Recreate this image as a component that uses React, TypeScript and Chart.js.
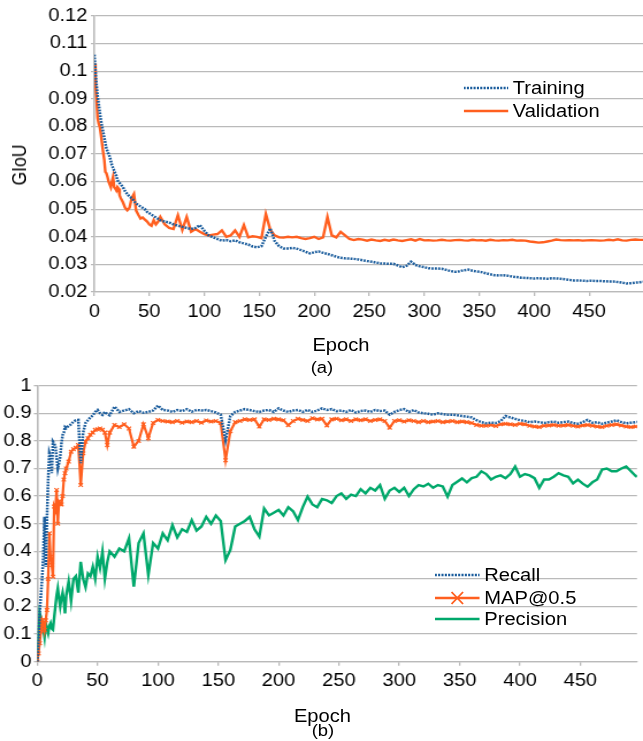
import React, { useEffect, useRef } from 'react';
import { Chart, registerables } from 'chart.js';

Chart.register(...registerables);

// ---------------- data ----------------
const EPOCHS = [
  0, 1, 2, 3, 4, 5, 6, 7, 8, 9, 10, 11, 12, 13, 14, 15, 16, 17, 18, 19, 20, 21, 22, 23, 24,
  26, 28, 30, 32, 34, 36, 38, 40, 42, 44, 46, 48, 50, 52, 54, 56, 58, 60,
  64, 68, 72, 76, 80, 84, 88, 92, 96, 100,
  104, 108, 112, 116, 120, 124, 128, 132, 136, 140,
  144, 148, 152, 156, 160, 164, 168, 172, 176, 180,
  184, 188, 192, 196, 200, 204, 208, 212, 216, 220,
  224, 228, 232, 236, 240, 244, 248, 252, 256, 260,
  264, 268, 272, 276, 280, 284, 288, 292, 296, 300,
  304, 308, 312, 316, 320, 324, 328, 332, 336, 340,
  344, 348, 352, 356, 360, 364, 368, 372, 376, 380,
  384, 388, 392, 396, 400, 404, 408, 412, 416, 420,
  424, 428, 432, 436, 440, 444, 448, 452, 456, 460,
  464, 468, 472, 476, 480, 484, 488, 492, 496, 499,
];

const X_TICKS = [0, 50, 100, 150, 200, 250, 300, 350, 400, 450];

const GIOU_TRAINING = [
  0.106, 0.100, 0.095, 0.091, 0.088, 0.085, 0.082, 0.080, 0.078, 0.076, 0.074, 0.072, 0.071, 0.070, 0.069, 0.0675, 0.066, 0.065, 0.064, 0.063, 0.062, 0.0605, 0.060, 0.0595, 0.059,
  0.058, 0.0565, 0.0555, 0.0545, 0.054, 0.053, 0.052, 0.0515, 0.051, 0.0505, 0.050, 0.049, 0.0485, 0.048, 0.0475, 0.047, 0.0465, 0.046,
  0.0455, 0.0452, 0.0445, 0.0440, 0.0436, 0.0432, 0.0428, 0.0432, 0.0442, 0.0422,
  0.0405, 0.0398, 0.0392, 0.0386, 0.0388, 0.0384, 0.0387, 0.0380, 0.0376, 0.0372,
  0.0365, 0.0362, 0.0366, 0.0400, 0.0430, 0.0385, 0.0366, 0.0358, 0.0358, 0.0360,
  0.0357, 0.0352, 0.0346, 0.0340, 0.0344, 0.0347, 0.0342, 0.0338, 0.0333, 0.0328,
  0.0324, 0.0322, 0.0321, 0.0320, 0.0318, 0.0315, 0.0312, 0.0310, 0.0307, 0.0304,
  0.0303, 0.0302, 0.0302, 0.0296, 0.0290, 0.0295, 0.0310, 0.0298, 0.0293, 0.0290,
  0.0286, 0.0285, 0.0285, 0.0284, 0.0280, 0.0276, 0.0273, 0.0275, 0.0279, 0.0281,
  0.0277, 0.0274, 0.0272, 0.0268, 0.0264, 0.0261, 0.0260, 0.0261, 0.0259, 0.0256,
  0.0254, 0.0252, 0.0251, 0.0250, 0.0249, 0.0250, 0.0249, 0.0248, 0.0250, 0.0249,
  0.0248, 0.0246, 0.0244, 0.0242, 0.0242, 0.0241, 0.0240, 0.0241, 0.0240, 0.0240,
  0.0239, 0.0238, 0.0238, 0.0236, 0.0234, 0.0231, 0.0232, 0.0234, 0.0235, 0.0237,
];

const GIOU_VALIDATION = [
  0.1028, 0.095, 0.090, 0.083, 0.081, 0.0798, 0.077, 0.0738, 0.0707, 0.068, 0.0635, 0.063, 0.0617, 0.060, 0.059, 0.058, 0.060, 0.0617, 0.058, 0.0575, 0.0568, 0.058, 0.0575, 0.055, 0.054,
  0.0525, 0.0505, 0.0496, 0.0505, 0.054, 0.0555, 0.0495, 0.048, 0.0466, 0.047, 0.0462, 0.0455, 0.0445, 0.044, 0.046, 0.0445, 0.0455, 0.0472,
  0.0445, 0.0432, 0.0428, 0.0478, 0.0425, 0.0472, 0.0418, 0.0428, 0.0418, 0.0410,
  0.0405, 0.0408, 0.0410, 0.0423, 0.0400, 0.0405, 0.0423, 0.0400, 0.0442, 0.0398,
  0.0402, 0.0400, 0.0395, 0.0482, 0.0425, 0.0405, 0.0398, 0.0397, 0.0400, 0.0398,
  0.0400, 0.0395, 0.0392, 0.0395, 0.0400, 0.0392, 0.0398, 0.0472, 0.0405, 0.0398,
  0.0418, 0.0405, 0.0392, 0.0388, 0.0392, 0.0390, 0.0386, 0.0390, 0.0387, 0.0385,
  0.0389, 0.0386, 0.0390, 0.0387, 0.0385, 0.0388, 0.0391, 0.0386, 0.0392, 0.0387,
  0.0388, 0.0386, 0.0387, 0.0389, 0.0387, 0.0386, 0.0388, 0.0389, 0.0387, 0.0386,
  0.0389, 0.0387, 0.0388, 0.0386, 0.0389, 0.0387, 0.0386, 0.0388, 0.0387, 0.0389,
  0.0386, 0.0387, 0.0386, 0.0383, 0.0381, 0.0379, 0.0380, 0.0383, 0.0386, 0.0390,
  0.0388, 0.0387, 0.0388, 0.0387, 0.0388, 0.0386, 0.0387, 0.0388, 0.0387, 0.0386,
  0.0387, 0.0389, 0.0387, 0.0391, 0.0387, 0.0386, 0.0389, 0.0390, 0.0389, 0.0389,
];

const RECALL = [
  0, 0.08, 0.175, 0.24, 0.30, 0.38, 0.525, 0.344, 0.52, 0.658, 0.755, 0.74, 0.683, 0.797, 0.79, 0.779, 0.74, 0.70, 0.72, 0.743, 0.79, 0.821, 0.83, 0.85, 0.846,
  0.855, 0.86, 0.87, 0.875, 0.876, 0.719, 0.83, 0.865, 0.875, 0.885, 0.892, 0.905, 0.912, 0.90, 0.894, 0.905, 0.897, 0.893,
  0.924, 0.905, 0.91, 0.915, 0.90, 0.908, 0.902, 0.905, 0.91, 0.928,
  0.912, 0.91, 0.905, 0.912, 0.908, 0.915, 0.906, 0.912, 0.91, 0.912,
  0.908, 0.903, 0.895, 0.803, 0.89, 0.905, 0.91, 0.915, 0.912, 0.908,
  0.905, 0.91, 0.912, 0.905, 0.918, 0.91, 0.905, 0.91, 0.912, 0.905,
  0.912, 0.905, 0.91, 0.918, 0.912, 0.915, 0.908, 0.91, 0.905, 0.912,
  0.903, 0.908, 0.91, 0.905, 0.912, 0.908, 0.91, 0.895, 0.905, 0.912,
  0.915, 0.905, 0.912, 0.903, 0.90, 0.898, 0.895, 0.90, 0.897, 0.895,
  0.895, 0.893, 0.89, 0.888, 0.885, 0.875, 0.868, 0.864, 0.866, 0.865,
  0.872, 0.89, 0.885, 0.88, 0.875, 0.872, 0.868, 0.87, 0.868, 0.865,
  0.868, 0.87, 0.866, 0.868, 0.87, 0.865, 0.862, 0.868, 0.876, 0.866,
  0.868, 0.862, 0.866, 0.87, 0.875, 0.868, 0.864, 0.866, 0.868, 0.87,
];

const MAP50 = [
  0, 0.03, 0.067, 0.11, 0.151, 0.14, 0.115, 0.15, 0.187, 0.30, 0.465, 0.38, 0.35, 0.308, 0.562, 0.55, 0.622, 0.50, 0.58, 0.574, 0.57, 0.60, 0.66, 0.683, 0.70,
  0.725, 0.761, 0.77, 0.775, 0.785, 0.64, 0.755, 0.797, 0.81, 0.822, 0.83, 0.84, 0.842, 0.845, 0.84, 0.83, 0.785, 0.83,
  0.858, 0.85, 0.86, 0.845, 0.779, 0.80, 0.86, 0.81, 0.865, 0.876,
  0.872, 0.87, 0.868, 0.872, 0.866, 0.87, 0.868, 0.872, 0.866, 0.874,
  0.87, 0.872, 0.865, 0.73, 0.835, 0.868, 0.872, 0.878, 0.876, 0.878,
  0.852, 0.878, 0.876, 0.88, 0.878, 0.875, 0.857, 0.872, 0.88, 0.876,
  0.872, 0.882, 0.878, 0.88, 0.856, 0.878, 0.88, 0.875, 0.878, 0.872,
  0.878, 0.875, 0.878, 0.872, 0.876, 0.878, 0.872, 0.848, 0.872, 0.875,
  0.87, 0.875, 0.872, 0.868, 0.872, 0.868, 0.87, 0.872, 0.868, 0.87,
  0.872, 0.868, 0.87, 0.868, 0.865, 0.858, 0.855, 0.855, 0.858, 0.854,
  0.86, 0.862, 0.86, 0.858, 0.862, 0.86, 0.855, 0.852, 0.85, 0.855,
  0.856, 0.858, 0.855, 0.856, 0.858, 0.855, 0.852, 0.856, 0.858, 0.855,
  0.852, 0.85, 0.855, 0.858, 0.86, 0.856, 0.852, 0.85, 0.852, 0.853,
];

const PRECISION = [
  0, 0.08, 0.176, 0.16, 0.13, 0.12, 0.09, 0.14, 0.12, 0.103, 0.13, 0.14, 0.12, 0.116, 0.16, 0.20, 0.24, 0.266, 0.23, 0.20, 0.23, 0.25, 0.22, 0.175, 0.24,
  0.29, 0.22, 0.30, 0.31, 0.25, 0.362, 0.30, 0.27, 0.32, 0.31, 0.344, 0.30, 0.38, 0.34, 0.399, 0.30, 0.36, 0.40,
  0.38, 0.41, 0.40, 0.447, 0.272, 0.43, 0.465, 0.314, 0.43, 0.41,
  0.465, 0.44, 0.495, 0.45, 0.48, 0.47, 0.513, 0.475, 0.49, 0.525,
  0.50, 0.53, 0.51, 0.368, 0.405, 0.49, 0.50, 0.51, 0.525, 0.48,
  0.453, 0.555, 0.53, 0.54, 0.55, 0.53, 0.56, 0.545, 0.513, 0.56,
  0.598, 0.57, 0.56, 0.59, 0.585, 0.575, 0.60, 0.61, 0.59, 0.605,
  0.60, 0.625, 0.61, 0.63, 0.62, 0.64, 0.59, 0.62, 0.63, 0.615,
  0.63, 0.60, 0.625, 0.64, 0.635, 0.645, 0.63, 0.64, 0.635, 0.598,
  0.64, 0.652, 0.664, 0.65, 0.665, 0.67, 0.69, 0.68, 0.66, 0.67,
  0.675, 0.665, 0.68, 0.707, 0.67, 0.68, 0.675, 0.665, 0.63, 0.66,
  0.66, 0.67, 0.683, 0.675, 0.67, 0.646, 0.66, 0.645, 0.634, 0.65,
  0.66, 0.696, 0.70, 0.69, 0.69, 0.70, 0.707, 0.69, 0.672, 0.675,
];

const GIOU_TICKS = { min: 0.02, max: 0.12, step: 0.01 };
const METRIC_TICKS = { min: 0, max: 1, step: 0.1 };

// ---------------- style ----------------
const W = 559; // inner layout width; stretched horizontally to 643 like the reference
const S = 643 / W;
const FONT = '"Liberation Sans", Arial, sans-serif';
const FS = 17.5;
const BLUE = '#1a5c9c';
const ORANGE = '#ff5f1f';
const GREEN = '#00a86b';
const GRID = '#bababa';

const pts = (ys: number[]) => EPOCHS.map((x, i) => ({ x, y: ys[i] }));

function axisX(max: number, height: number, pad: number) {
  return {
    type: 'linear',
    min: 0,
    max,
    afterFit: (s: any) => { s.height = height; },
    afterBuildTicks: (s: any) => { s.ticks = X_TICKS.map((value) => ({ value })); },
    ticks: { autoSkip: false, maxRotation: 0, padding: pad, color: '#000', font: { family: FONT, size: FS } },
    grid: { drawOnChartArea: false, drawTicks: true, tickLength: 4, color: GRID, lineWidth: 1.3 },
    border: { color: GRID, width: 1.3 },
  };
}

function axisY(t: { min: number; max: number; step: number }, width: number, pad: number, digits: number) {
  return {
    min: t.min,
    max: t.max,
    afterFit: (s: any) => { s.width = width; },
    ticks: {
      stepSize: t.step,
      padding: pad,
      color: '#000',
      font: { family: FONT, size: FS },
      callback: (v: any) => String(+Number(v).toFixed(digits)),
    },
    grid: { color: GRID, lineWidth: 1.3, tickLength: 3 },
    border: { color: GRID, width: 1.6 },
  };
}

const Text = ({ x, y, children, size = FS, center = true }: any) => (
  <div
    style={{
      position: 'absolute',
      left: x,
      top: y - 10,
      height: 20,
      lineHeight: '20px',
      fontFamily: FONT,
      fontSize: size,
      color: '#000',
      whiteSpace: 'nowrap',
      transform: center ? 'translateX(-50%)' : undefined,
    }}
  >
    {children}
  </div>
);

const Sample = ({ x, y, w, color, dotted = false, cross = false }: any) => (
  <svg style={{ position: 'absolute', left: x, top: y - 7 }} width={w} height={14}>
    <line x1={0} y1={7} x2={w} y2={7} stroke={color} strokeWidth={dotted ? 2.4 : 2.4} strokeDasharray={dotted ? '1.8 1.1' : undefined} />
    {cross && (
      <g stroke={color} strokeWidth={1.6}>
        <line x1={w / 2 - 5} y1={1} x2={w / 2 + 5} y2={13} />
        <line x1={w / 2 - 5} y1={13} x2={w / 2 + 5} y2={1} />
      </g>
    )}
  </svg>
);

export default function App() {
  const topRef = useRef<HTMLCanvasElement | null>(null);
  const botRef = useRef<HTMLCanvasElement | null>(null);

  useEffect(() => {
    const top = new Chart(topRef.current as HTMLCanvasElement, {
      type: 'line',
      data: {
        datasets: [
          { label: 'Training', data: pts(GIOU_TRAINING), borderColor: BLUE, borderWidth: 2.5, borderDash: [1.8, 1.1], pointRadius: 0, tension: 0 },
          { label: 'Validation', data: pts(GIOU_VALIDATION), borderColor: ORANGE, borderWidth: 2.4, pointRadius: 0, tension: 0 },
        ],
      } as any,
      options: {
        responsive: false,
        animation: false,
        devicePixelRatio: 1,
        layout: { padding: { top: 16, left: 0, right: 0, bottom: 0 } },
        plugins: { legend: { display: false }, tooltip: { enabled: false } },
        scales: {
          x: axisX(499, 63, 6),
          y: axisY(GIOU_TICKS, 82, 3, 2),
        },
      } as any,
    });

    const bot = new Chart(botRef.current as HTMLCanvasElement, {
      type: 'line',
      data: {
        datasets: [
          { label: 'Recall', data: pts(RECALL), borderColor: BLUE, borderWidth: 2.5, borderDash: [1.8, 1.1], pointRadius: 0, tension: 0 },
          { label: 'MAP@0.5', data: pts(MAP50), borderColor: ORANGE, borderWidth: 2.2, pointStyle: 'crossRot', pointRadius: 2.6, pointBorderWidth: 1.2, pointBorderColor: ORANGE, pointBackgroundColor: ORANGE, tension: 0 },
          { label: 'Precision', data: pts(PRECISION), borderColor: GREEN, borderWidth: 2.4, pointRadius: 0, tension: 0 },
        ],
      } as any,
      options: {
        responsive: false,
        animation: false,
        devicePixelRatio: 1,
        layout: { padding: { top: 25.7, left: 0, right: 0, bottom: 0 } },
        plugins: { legend: { display: false }, tooltip: { enabled: false } },
        scales: {
          x: axisX(497, 79.3, 4.5),
          y: axisY(METRIC_TICKS, 32.4, 2, 1),
        },
      } as any,
    });

    return () => { top.destroy(); bot.destroy(); };
  }, []);

  return (
    <div
      style={{
        position: 'fixed',
        left: 0,
        top: 0,
        width: W,
        height: 741,
        background: '#fff',
        overflow: 'hidden',
        transform: `scaleX(${S})`,
        transformOrigin: '0 0',
      }}
    >
      <canvas ref={topRef} width={W} height={355} style={{ position: 'absolute', left: 0, top: 0 }} />
      <canvas ref={botRef} width={W} height={381} style={{ position: 'absolute', left: 0, top: 360 }} />

      {/* top chart texts */}
      <div
        style={{
          position: 'absolute', left: 19 / S, top: 165, fontFamily: FONT, fontSize: FS, lineHeight: '20px',
          whiteSpace: 'nowrap', transform: 'translate(-50%, -50%) rotate(-90deg)',
        }}
      >
        GIoU
      </div>
      <Text x={341 / S} y={345}>Epoch</Text>
      <Text x={322 / S} y={368} size={16}>(a)</Text>
      <Sample x={463 / S} y={88} w={45 / S} color={BLUE} dotted />
      <Text x={512.7 / S} y={88} center={false}>Training</Text>
      <Sample x={463 / S} y={111} w={45 / S} color={ORANGE} />
      <Text x={512.7 / S} y={111} center={false}>Validation</Text>

      {/* bottom chart texts */}
      <Text x={322.5 / S} y={716}>Epoch</Text>
      <Text x={323 / S} y={731} size={16}>(b)</Text>
      <Sample x={435 / S} y={575} w={45 / S} color={BLUE} dotted />
      <Text x={484.3 / S} y={575} center={false}>Recall</Text>
      <Sample x={435 / S} y={597.7} w={45 / S} color={ORANGE} cross />
      <Text x={484.3 / S} y={597.7} center={false}>MAP@0.5</Text>
      <Sample x={435 / S} y={619.3} w={45 / S} color={GREEN} />
      <Text x={484.3 / S} y={619.3} center={false}>Precision</Text>
    </div>
  );
}
